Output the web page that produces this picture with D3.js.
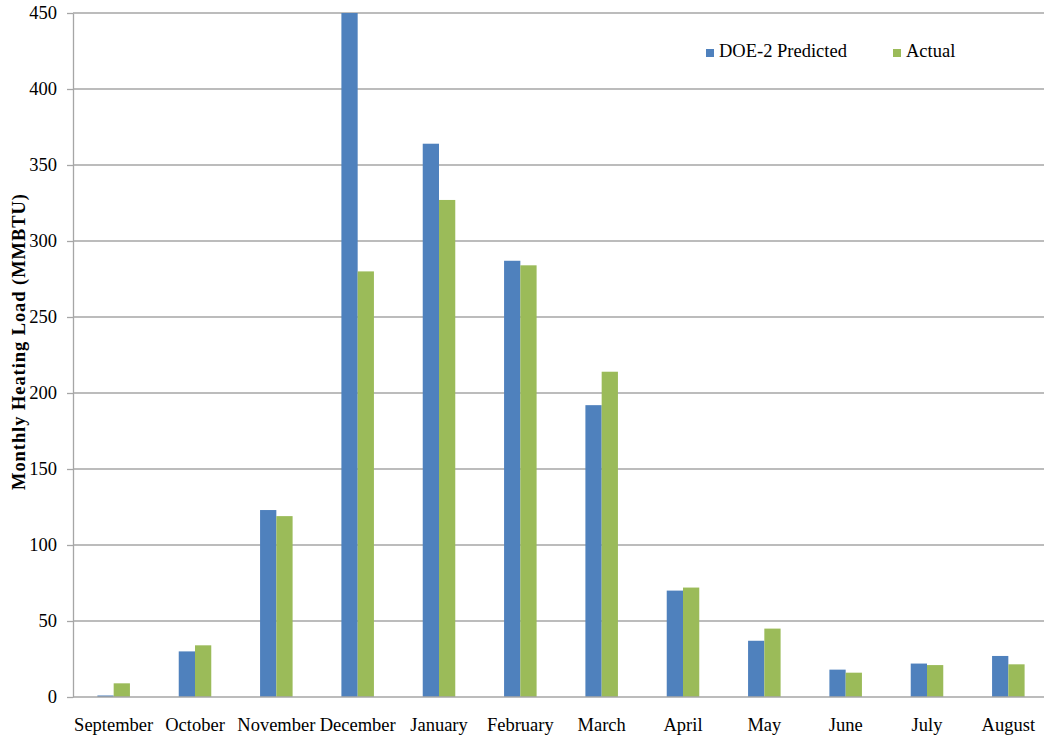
<!DOCTYPE html>
<html>
<head>
<meta charset="utf-8">
<script src="https://cdn.jsdelivr.net/npm/d3@7/dist/d3.min.js"></script>
<style>
  html, body { margin: 0; padding: 0; background: #ffffff; }
  svg { display: block; }
  text { font-family: "Liberation Serif", "Times New Roman", serif; fill: #000; }
</style>
</head>
<body>
<svg id="chart" width="1044" height="736"></svg>
<script>
// Monthly heating load, MMBTU
const months = ["September", "October", "November", "December", "January", "February",
                "March", "April", "May", "June", "July", "August"];
const predicted = [1, 30, 123, 450, 364, 287, 192, 70, 37, 18, 22, 27];
const actual = [9, 34, 119, 280, 327, 284, 214, 72, 45, 16, 21, 21.5];
const seriesNames = ["DOE-2 Predicted", "Actual"];
const seriesColors = ["#4f81bd", "#9bbb59"];
const yTicks = [0, 50, 100, 150, 200, 250, 300, 350, 400, 450];

const FONT = 18.5;
const svg = d3.select("#chart");
const plot = { left: 73, right: 1049, top: 13, bottom: 697 };

const x = d3.scaleBand().domain(months).range([plot.left, plot.right]).paddingInner(0).paddingOuter(0);
const barW = x.bandwidth() * 0.2;
const y = d3.scaleLinear().domain([0, 450]).range([plot.bottom, plot.top]);

// horizontal gridlines
svg.append("g")
  .selectAll("line")
  .data(yTicks.filter(d => d > 0))
  .join("line")
  .attr("x1", plot.left).attr("x2", 1044)
  .attr("y1", d => y(d)).attr("y2", d => y(d))
  .attr("stroke", "#a6a6a6").attr("stroke-width", 1.3);

// bars
const rows = months.map((m, i) => ({ month: m, values: [predicted[i], actual[i]] }));
svg.append("g")
  .selectAll("g")
  .data(rows)
  .join("g")
  .attr("transform", d => `translate(${x(d.month) + (x.bandwidth() - 2 * barW) / 2},0)`)
  .selectAll("rect")
  .data(d => d.values.map((v, k) => ({ v, k })))
  .join("rect")
  .attr("x", d => d.k * barW)
  .attr("width", barW)
  .attr("y", d => y(Math.min(d.v, 450)))
  .attr("height", d => y(0) - y(Math.min(d.v, 450)))
  .attr("fill", d => seriesColors[d.k]);

// y axis
const yAxis = d3.axisLeft(y).tickValues(yTicks).tickSize(6).tickPadding(10).tickSizeOuter(0);
const gy = svg.append("g").attr("transform", `translate(${plot.left},0)`).call(yAxis);
gy.select(".domain").attr("stroke", "#a6a6a6").attr("stroke-width", 1.3);
gy.selectAll(".tick line").attr("stroke", "#a6a6a6").attr("stroke-width", 1.3);
gy.selectAll(".tick text").attr("font-size", FONT).attr("fill", "#000");

// x axis
const xAxis = d3.axisBottom(x).tickSize(0).tickPadding(21);
const gx = svg.append("g").attr("transform", `translate(0,${plot.bottom})`).call(xAxis);
gx.select(".domain").remove();
gx.selectAll(".tick text").attr("font-size", FONT).attr("fill", "#000");
svg.append("line")
  .attr("x1", plot.left).attr("x2", 1044)
  .attr("y1", plot.bottom).attr("y2", plot.bottom)
  .attr("stroke", "#a6a6a6").attr("stroke-width", 1.3);

// y axis title
svg.append("text")
  .attr("transform", `translate(25,${342}) rotate(-90)`)
  .attr("text-anchor", "middle")
  .attr("font-size", 18.5)
  .attr("font-weight", "bold")
  .attr("textLength", 296)
  .attr("lengthAdjust", "spacing")
  .text("Monthly Heating Load (MMBTU)");

// legend
const legendX = [706, 893];
const legend = svg.append("g")
  .selectAll("g")
  .data(seriesNames)
  .join("g")
  .attr("transform", (d, i) => `translate(${legendX[i]},49)`);
legend.append("rect")
  .attr("x", 0).attr("y", 0).attr("width", 8).attr("height", 8)
  .attr("fill", (d, i) => seriesColors[i]);
legend.append("text")
  .attr("x", 13).attr("y", 8.3)
  .attr("font-size", FONT)
  .text(d => d);
</script>
</body>
</html>
